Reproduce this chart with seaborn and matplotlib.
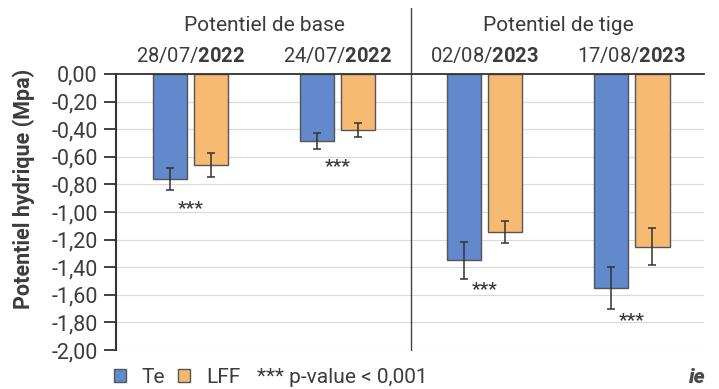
import numpy as np
import pandas as pd
import seaborn as sns
import matplotlib.pyplot as plt
from matplotlib.ticker import FuncFormatter

# values (MPa)
dates = ["28/07/", "24/07/", "02/08/", "17/08/"]
years = ["2022", "2022", "2023", "2023"]
te_mean = [-0.76, -0.485, -1.35, -1.55]
lff_mean = [-0.66, -0.405, -1.145, -1.25]
te_err = [0.08, 0.06, 0.135, 0.155]
lff_err = [0.085, 0.05, 0.08, 0.135]
star_y = [-0.975, -0.67, -1.56, -1.785]
sections = ["Potentiel de base", "Potentiel de tige"]

labels = [d + r"$\mathbf{" + y + "}$" for d, y in zip(dates, years)]
df = pd.DataFrame({
    "date": labels * 2,
    "traitement": ["Te"] * 4 + ["LFF"] * 4,
    "potentiel": te_mean + lff_mean,
    "err": te_err + lff_err,
})

sns.set_theme(style="white")
plt.rcParams['font.family'] = ['Roboto', 'DejaVu Sans']
plt.rcParams['mathtext.fontset'] = 'custom'
plt.rcParams['mathtext.rm'] = 'Roboto'
plt.rcParams['mathtext.bf'] = 'Roboto:bold'
txt = "#3c3c3c"

fig = plt.figure(figsize=(7.19, 3.89), dpi=100)
ax = fig.add_axes([0.161, 0.100, 0.818, 0.710])

sns.barplot(data=df, x="date", y="potentiel", hue="traitement",
            palette=["#6189cb", "#f6ba72"], saturation=1, width=0.56, gap=0.17,
            errorbar=None, edgecolor="#555555", linewidth=1, ax=ax)

# error bars on the bars seaborn drew
for bar, e in zip(ax.patches[:8], df["err"]):
    xc = bar.get_x() + bar.get_width() / 2
    ax.errorbar(xc, bar.get_height(), yerr=e, color="#333333",
                lw=1.1, capsize=3, capthick=1.1, zorder=5)

for i, y in enumerate(star_y):
    ax.text(i, y, "***", ha="center", va="center", fontsize=14,
            fontweight="medium", color=txt)

ax.set_xlim(-0.51, 3.49)
ax.set_ylim(-2.0, 0.0)
ax.set_yticks(np.linspace(-2, 0, 11))
ax.yaxis.set_major_formatter(FuncFormatter(lambda v, p: f"{round(v, 2) + 0.0:.2f}".replace(".", ",")))
ax.yaxis.grid(True, color="#d9d9d9", lw=0.8)
ax.set_axisbelow(True)

ax.xaxis.tick_top()
ax.tick_params(axis="x", length=0, pad=6, labelsize=14.5, labelcolor=txt)
ax.tick_params(axis="y", left=True, length=9, width=1.3, color="#333333",
               labelsize=15.5, labelcolor=txt, pad=4)
ax.set_xlabel("")
ax.set_ylabel("Potentiel hydrique (Mpa)", fontsize=15.5, fontweight="bold", color=txt)
ax.yaxis.set_label_coords(-0.137, 0.585)

for s in ["right", "bottom"]:
    ax.spines[s].set_visible(False)
ax.spines["left"].set_color("#333333")
ax.spines["left"].set_linewidth(1.5)
ax.spines["top"].set_color("#333333")
ax.spines["top"].set_linewidth(1.3)

ax.axvline(1.5, ymin=0, ymax=1.24, color="#444444", lw=1, clip_on=False)
for xc, s in zip([0.5, 2.5], sections):
    ax.text(xc, 1.175, s, transform=ax.get_xaxis_transform(), ha="center",
            va="center", fontsize=15, color=txt)

sns.move_legend(ax, "center left", bbox_to_anchor=(0.158, 0.03),
                bbox_transform=fig.transFigure, ncol=2, frameon=False,
                title=None, fontsize=15, handlelength=0.6, handleheight=0.6,
                handletextpad=0.75, columnspacing=0.6, borderpad=0, borderaxespad=0)
for t in ax.get_legend().get_texts():
    t.set_color(txt)
fig.text(0.357, 0.03, "*** p-value < 0,001", ha="left", va="center",
         fontsize=15, color=txt)
fig.text(0.981, 0.03, "ie", ha="right", va="center", fontsize=15,
         fontweight="heavy", style="italic", color="#4a4a4a")

fig.savefig("out.png", dpi=100)
